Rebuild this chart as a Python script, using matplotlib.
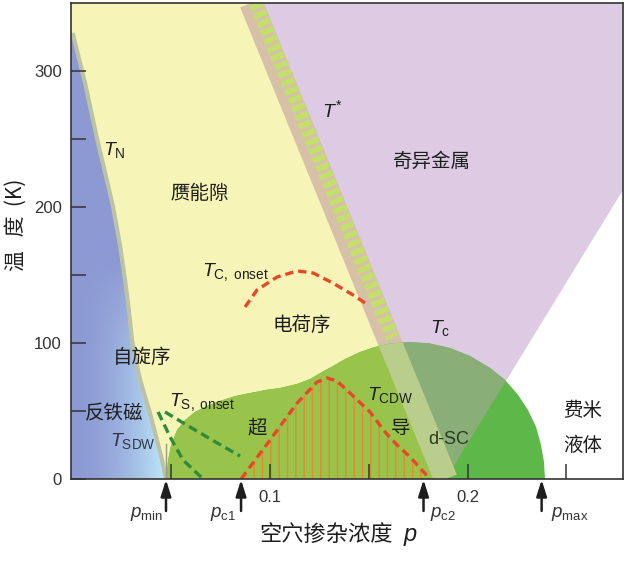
import numpy as np
import matplotlib
matplotlib.use('Agg')
import matplotlib.pyplot as plt
from matplotlib.patches import Polygon
import matplotlib.transforms as mtransforms

plt.rcParams['font.family'] = ['Liberation Sans', 'Noto Sans CJK SC']
plt.rcParams['mathtext.fontset'] = 'custom'
plt.rcParams['mathtext.rm'] = 'Liberation Sans'
plt.rcParams['mathtext.it'] = 'Liberation Sans:italic'
plt.rcParams['mathtext.bf'] = 'Liberation Sans:bold'
plt.rcParams['lines.scale_dashes'] = False
plt.rcParams['hatch.linewidth'] = 1.0

# ---------------- data ----------------
# Neel temperature boundary T_N (AF / pseudogap border)
tn_p = [0.0, 0.0065, 0.0124, 0.0165, 0.0205, 0.0240, 0.0266, 0.0285, 0.0301,
        0.0322, 0.0342, 0.0368, 0.0392, 0.0427, 0.0453, 0.0473]
tn_T = [328, 290, 250, 225, 200, 172, 146, 124, 102, 86, 73, 60, 48.5, 28.7, 14, 0]
# pseudogap line T*
tstar_p = [0.0904, 0.189]
tstar_T = [350, 0]
tstar_dash_T = [350, 104]
# right border of the strange-metal fan
fan_p = [0.2787, 0.189]
fan_T = [212.5, 0]
# superconducting region (T_c dome + low-doping part)
sc_p = [0.0473, 0.0484, 0.0499, 0.0529, 0.0570, 0.0620, 0.0681, 0.0747, 0.0823,
        0.0899, 0.0975, 0.1051, 0.1137, 0.1203, 0.1263, 0.1319, 0.1380, 0.1456,
        0.1532, 0.1608, 0.1709, 0.1810, 0.1911, 0.2013, 0.2114, 0.2190, 0.2256,
        0.2306, 0.2347, 0.2372, 0.2387, 0.2392]
sc_T = [0, 14, 25, 36, 43.4, 49.3, 53.7, 57.4, 61, 63.2, 65.4, 66.9, 69.9, 73.5,
        78.7, 83.1, 88.2, 93.4, 97.1, 99.6, 100.7, 99.6, 96.3, 90.4, 81.6, 72.8,
        61.8, 50.7, 38.2, 25, 12.5, 0]
# charge order T_CDW
cdw_p = [0.0853, 0.1000, 0.1137, 0.1238, 0.1289, 0.1339, 0.1405, 0.1506, 0.1582,
         0.1643, 0.1709, 0.1810]
cdw_T = [0, 28.7, 55.9, 71.3, 74.3, 72, 63.2, 49.3, 34.6, 25, 16.2, 0]
# T_C,onset
onset_p = [0.0873, 0.0934, 0.1035, 0.1137, 0.1218, 0.1319, 0.1420, 0.1496]
onset_T = [126.5, 139, 148.5, 153, 151.5, 144, 135.3, 128]
# T_S,onset and T_SDW dashed lines
tsa_p = [0.0468, 0.0595, 0.0732, 0.0848]
tsa_T = [49.3, 38.2, 26.5, 16.9]
tsb_p = [0.0433, 0.0494, 0.0559, 0.0656]
tsb_T = [49.3, 30.9, 14, 0.7]
# critical dopings
crit_names = ['$p_{\\mathrm{min}}$', '$p_{\\mathrm{c1}}$', '$p_{\\mathrm{c2}}$', '$p_{\\mathrm{max}}$']
crit_p = [0.0473, 0.0853, 0.1777, 0.2375]
# ticks
xtick_vals = [0.05, 0.1, 0.15, 0.2, 0.25]
xtick_labels = ['', '0.1', '', '0.2', '']
ytick_vals = [0, 50, 100, 150, 200, 250, 300]
ytick_labels = ['0', '', '100', '', '200', '', '300']

xmin, xmax = -0.0008, 0.2787
ymin, ymax = 0, 350

fig = plt.figure(figsize=(6.4, 5.61), dpi=100)
ax = fig.add_axes([71/640, 82/561, 552/640, 476/561])

# ---------------- regions ----------------
yellow_verts = [(xmin, ymax), (xmin, tn_T[0])] + list(zip(tn_p, tn_T)) + \
               [(tstar_p[1], tstar_T[1]), (tstar_p[0], tstar_T[0])]
yellow = Polygon(yellow_verts, closed=True, fc='#f6f4b6', ec='none', zorder=1)
ax.add_patch(yellow)

purple_verts = [(tstar_p[0], ymax), (xmax, ymax), (fan_p[0], fan_T[0]), (fan_p[1], fan_T[1])]
purple = Polygon(purple_verts, closed=True, fc='#dccbe2', ec='none', zorder=1)
ax.add_patch(purple)

# AF region with gradient
blue_verts = [(xmin, 0), (xmin, tn_T[0])] + list(zip(tn_p, tn_T))
blue_clip = Polygon(blue_verts, closed=True, transform=ax.transData)
tn_p_arr = np.array(tn_p)[::-1]
tn_T_arr = np.array(tn_T)[::-1]
Tg = np.linspace(0, ymax, 300)
pg = np.linspace(xmin, crit_p[0], 120)
PP, TT = np.meshgrid(pg, Tg)
bnd = np.interp(TT, tn_T_arr, tn_p_arr)
u = np.clip((PP - xmin) / np.maximum(bnd - xmin, 1e-6), 0, 1)
w = u**1.8 * np.clip(1 - TT / 160.0, 0, 1)**0.9
c1 = np.array([140, 153, 211]) / 255.0
c2 = np.array([190, 232, 250]) / 255.0
img = c1[None, None, :] * (1 - w[..., None]) + c2[None, None, :] * w[..., None]
im = ax.imshow(img, extent=[xmin, crit_p[0], 0, ymax], origin='lower',
               aspect='auto', zorder=2, interpolation='bilinear')
im.set_clip_path(blue_clip)

# T_N band
ax.plot(tn_p, tn_T, color='#bcc2a4', lw=3.0, zorder=3, solid_capstyle='butt',
        solid_joinstyle='round')

# T* band (under SC)
ax.plot(tstar_p, tstar_T, color='#d6c1a8', lw=17, zorder=3.5, solid_capstyle='butt')

# superconducting region
sc_verts = list(zip(sc_p, sc_T))
sc_main = Polygon(sc_verts, closed=True, fc='#5db749', ec='none', zorder=4)
ax.add_patch(sc_main)
yellow_clip = Polygon(yellow_verts, closed=True, transform=ax.transData)
purple_clip = Polygon(purple_verts, closed=True, transform=ax.transData)
sc_clip = Polygon(sc_verts, closed=True, transform=ax.transData)
sc_y = Polygon(sc_verts, closed=True, fc='#99c44b', ec='none', zorder=4.1)
ax.add_patch(sc_y)
sc_y.set_clip_path(yellow_clip)
sc_pu = Polygon(sc_verts, closed=True, fc='#8aae78', ec='none', zorder=4.1)
ax.add_patch(sc_pu)
sc_pu.set_clip_path(purple_clip)
band_sc = ax.plot(tstar_p, tstar_T, color='#b9cd8c', lw=17, zorder=4.5,
                  solid_capstyle='butt')[0]
band_sc.set_clip_path(sc_clip)

# green dashes on T*
dash_p = np.interp(tstar_dash_T, np.array(tstar_T)[::-1], np.array(tstar_p)[::-1])
off = mtransforms.offset_copy(ax.transData, fig=fig, x=4.5, y=0, units='dots')
ax.plot(dash_p, tstar_dash_T, color='#c3df6c', lw=10, zorder=5, transform=off,
        dashes=(4.2, 2.4), solid_capstyle='butt', dash_capstyle='butt')

# CDW hatch
ax.fill_between(cdw_p, 0, cdw_T, facecolor='none', edgecolor='#e9862e', hatch='||',
                linewidth=0, zorder=5)

# dashed lines
ax.plot(cdw_p, cdw_T, color='#e8482a', lw=2.4, dashes=(6, 3.6), zorder=6)
ax.plot(onset_p, onset_T, color='#e8482a', lw=2.4, dashes=(6, 3.6), zorder=6)
ax.plot(tsa_p, tsa_T, color='#2e8b3e', lw=2.4, dashes=(6.5, 3.6), zorder=6)
ax.plot(tsb_p, tsb_T, color='#2e8b3e', lw=2.4, dashes=(6.5, 3.6), zorder=6)

# p_min marker line
ax.plot([crit_p[0], crit_p[0]], [0, 26], color='#9a9a8a', lw=1, zorder=6)

# ---------------- text ----------------
tc = '#1e1e1e'
cjk = ['Noto Sans CJK SC']
ax.text(0.0154, 242, '$T_{\\mathrm{N}}$', fontsize=14, color=tc, ha='left', va='center', zorder=7)
ax.text(0.0646, 209.6, '赝能隙', fontsize=14, family=cjk, color=tc, ha='center', va='center', zorder=7)
ax.text(0.1265, 271, '$T^{*}$', fontsize=14, color=tc, ha='left', va='center', zorder=7)
ax.text(0.182, 233.8, '奇异金属', fontsize=14, family=cjk, color=tc, ha='center', va='center', zorder=7)
ax.text(0.0656, 152, '$T_{\\mathrm{C,\\ onset}}$', fontsize=14, color=tc, ha='left', va='center', zorder=7)
ax.text(0.1162, 113, '电荷序', fontsize=14, family=cjk, color=tc, ha='center', va='center', zorder=7)
ax.text(0.181, 111, '$T_{\\mathrm{c}}$', fontsize=14, color=tc, ha='left', va='center', zorder=7)
ax.text(0.0352, 89.7, '自旋序', fontsize=14, family=cjk, color=tc, ha='center', va='center', zorder=7)
ax.text(0.149, 61.8, '$T_{\\mathrm{CDW}}$', fontsize=14, color=tc, ha='left', va='center', zorder=7)
ax.text(0.0210, 47.8, '反铁磁', fontsize=14, family=cjk, color=tc, ha='center', va='center', zorder=7)
ax.text(0.0489, 56.6, '$T_{\\mathrm{S,\\ onset}}$', fontsize=14, color=tc, ha='left', va='center', zorder=7)
ax.text(0.0934, 37.5, '超', fontsize=14, family=cjk, color=tc, ha='center', va='center', zorder=7)
ax.text(0.1663, 36.8, '导', fontsize=14, family=cjk, color=tc, ha='center', va='center', zorder=7)
ax.text(0.1906, 28.7, 'd-SC', fontsize=13, color='#2a3a20', ha='center', va='center', zorder=7)
ax.text(0.019, 28, '$T_{\\mathrm{SDW}}$', fontsize=14, color='#303448', ha='left', va='center', zorder=7)
ax.text(0.2584, 50.7, '费米', fontsize=14, family=cjk, color=tc, ha='center', va='center', zorder=7)
ax.text(0.2584, 24.3, '液体', fontsize=14, family=cjk, color=tc, ha='center', va='center', zorder=7)

# arrows and critical doping labels
lab_dx = [-2.0, -3.6, 4.7, 7.0]
lab_ha = ['right', 'right', 'left', 'left']
for name, p, dx, ha in zip(crit_names, crit_p, lab_dx, lab_ha):
    ax.annotate('', xy=(p, 0), xycoords='data', xytext=(0, -23), textcoords='offset points',
                arrowprops=dict(arrowstyle='-|>,head_width=0.22,head_length=0.7',
                                color='#1e1e1e', lw=1.8, mutation_scale=14,
                                shrinkA=0, shrinkB=0.5),
                annotation_clip=False, zorder=8)
    ax.annotate(name, xy=(p, 0), xycoords='data', xytext=(dx, -25), textcoords='offset points',
                ha=ha, va='center', fontsize=13.5, color='#333333', annotation_clip=False)

# axis labels
fig.text(326.5/640, 1 - 541/561, '空穴掺杂浓度', family=cjk, fontsize=16, color=tc,
         ha='center', va='baseline')
fig.text(404/640, 1 - 541/561, 'p', fontsize=17, style='italic', color=tc,
         ha='left', va='baseline', family=['Liberation Sans'])
fig.text(16/640, 1 - 225/561, '温   度  (K)', family=cjk, fontsize=15, color=tc,
         rotation=90, ha='center', va='center')

# ---------------- axes styling ----------------
ax.set_xlim(xmin, xmax)
ax.set_ylim(ymin, ymax)
ax.set_xticks(xtick_vals, xtick_labels)
ax.set_yticks(ytick_vals, ytick_labels)
ax.tick_params(direction='in', length=11, width=1.1, color='#333333', labelsize=12,
               labelcolor='#333333')
ax.tick_params(axis='x', pad=8)
ax.tick_params(axis='y', pad=6.5)
ax.xaxis.set_zorder(9)
ax.yaxis.set_zorder(9)
for s in ax.spines.values():
    s.set_color('#333333')
    s.set_linewidth(1.2)
    s.set_zorder(10)

fig.savefig('out.png', dpi=100)
